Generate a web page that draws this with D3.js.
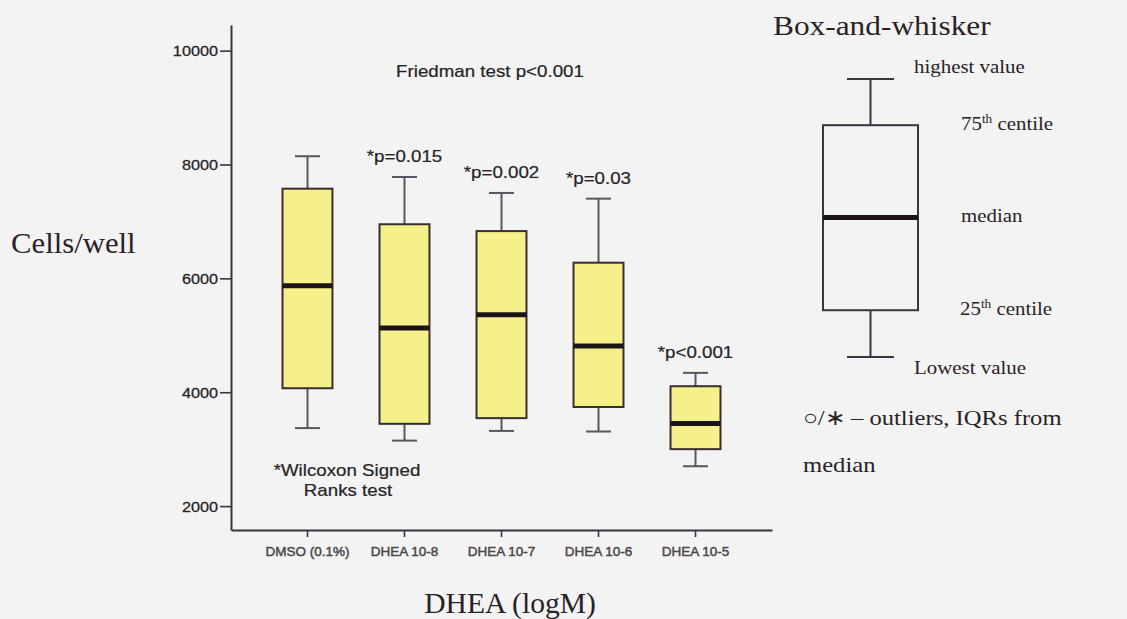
<!DOCTYPE html>
<html>
<head>
<meta charset="utf-8">
<script src="https://cdn.jsdelivr.net/npm/d3@7"></script>
<style>
  html, body { margin: 0; padding: 0; background: #f3f3f3; }
  svg { display: block; }
</style>
</head>
<body>
<svg id="chart" width="1127" height="619"></svg>
<script>
// Cell counts per well for each treatment group
const categories = ["DMSO (0.1%)", "DHEA 10-8", "DHEA 10-7", "DHEA 10-6", "DHEA 10-5"];
const lowest   = [3370, 3150, 3320, 3310, 2700];
const q1       = [4070, 3445, 3545, 3740, 3000];
const medians  = [5870, 5130, 5360, 4810, 3450];
const q3       = [7575, 6950, 6830, 6275, 4105];
const highest  = [8145, 7780, 7500, 7400, 4340];
const pLabels  = [null, "*p=0.015", "*p=0.002", "*p=0.03", "*p<0.001"];

const yTicks = [2000, 4000, 6000, 8000, 10000];
const yExtent = [1580, 10450];

// Schematic key box: lowest, 25th, median, 75th, highest
const keyStats = [4620, 5440, 7070, 8690, 9500];

const svg = d3.select("#chart");
const serif = "'Liberation Serif', 'Times New Roman', serif";
const sans = "'Liberation Sans', Arial, sans-serif";
const axisColor = "#3b3340";

const y = d3.scaleLinear().domain(yExtent).range([530, 25]);
const x = d3.scaleBand().domain(categories).range([231, 772])
  .paddingInner(0.485).paddingOuter(0.531);

// text drawn with a horizontal stretch around its anchor
function label(g, str, px, py, o) {
  const t = g.append("text")
    .attr("transform", `translate(${px},${py}) scale(${o.sx || 1},1)`)
    .attr("text-anchor", o.anchor || "start")
    .attr("font-family", o.family || sans)
    .attr("font-size", o.size)
    .attr("font-weight", o.weight || "normal")
    .attr("fill", o.fill || "#262326")
    .text(str);
  if (o.thicken) t.attr("stroke", o.fill || "#262326").attr("stroke-width", o.thicken);
  return t;
}

// Y axis
const yAxis = svg.append("g").attr("transform", "translate(231,0)")
  .call(d3.axisLeft(y).tickValues(yTicks).tickSize(11).tickSizeOuter(0).tickFormat(d3.format("d")));
yAxis.select(".domain").attr("stroke", axisColor).attr("stroke-width", 2);
yAxis.selectAll(".tick line").attr("stroke", axisColor).attr("stroke-width", 1.6);
const ySx = 1.16;
yAxis.selectAll(".tick text")
  .attr("font-family", sans).attr("font-size", 14).attr("fill", "#262326")
  .attr("stroke", "#262326").attr("stroke-width", 0.25)
  .attr("x", -13 / ySx).attr("transform", `scale(${ySx},1)`).attr("dy", "0.36em");

// X axis
const xAxis = svg.append("g").attr("transform", "translate(0,530)")
  .call(d3.axisBottom(x).tickSize(7).tickSizeOuter(0).tickPadding(9));
xAxis.select(".domain").attr("stroke", axisColor).attr("stroke-width", 2);
xAxis.selectAll(".tick line").attr("stroke", axisColor).attr("stroke-width", 1.6);
xAxis.selectAll(".tick text")
  .attr("font-family", sans).attr("font-size", 13.5).attr("fill", "#4a4548")
  .attr("stroke", "#4a4548").attr("stroke-width", 0.45);

// Boxes
const bw = x.bandwidth();
const boxes = svg.append("g").selectAll("g").data(categories).join("g")
  .attr("transform", d => `translate(${x(d)},0)`);

boxes.append("line").attr("x1", bw / 2).attr("x2", bw / 2)
  .attr("y1", (d, i) => y(highest[i])).attr("y2", (d, i) => y(q3[i]))
  .attr("stroke", "#5a5560").attr("stroke-width", 2);
boxes.append("line").attr("x1", bw / 2).attr("x2", bw / 2)
  .attr("y1", (d, i) => y(q1[i])).attr("y2", (d, i) => y(lowest[i]))
  .attr("stroke", "#5a5560").attr("stroke-width", 2);
boxes.append("line").attr("x1", bw / 4).attr("x2", bw * 3 / 4)
  .attr("y1", (d, i) => y(highest[i])).attr("y2", (d, i) => y(highest[i]))
  .attr("stroke", "#5a5560").attr("stroke-width", 2);
boxes.append("line").attr("x1", bw / 4).attr("x2", bw * 3 / 4)
  .attr("y1", (d, i) => y(lowest[i])).attr("y2", (d, i) => y(lowest[i]))
  .attr("stroke", "#5a5560").attr("stroke-width", 2);
boxes.append("rect").attr("x", 0).attr("width", bw)
  .attr("y", (d, i) => y(q3[i])).attr("height", (d, i) => y(q1[i]) - y(q3[i]))
  .attr("fill", "#f6f08a").attr("stroke", "#3a2e30").attr("stroke-width", 2);
boxes.append("line").attr("x1", 0).attr("x2", bw)
  .attr("y1", (d, i) => y(medians[i])).attr("y2", (d, i) => y(medians[i]))
  .attr("stroke", "#1c1416").attr("stroke-width", 5);

// Significance labels above whiskers
const ann = svg.append("g");
const aOpt = { size: 16, sx: 1.17, anchor: "middle", thicken: 0.2 };
categories.forEach((c, i) => {
  if (pLabels[i]) label(ann, pLabels[i], x(c) + bw / 2, y(highest[i]) - 15, aOpt);
});
label(ann, "Friedman test p<0.001", 490, 77, aOpt);
label(ann, "*Wilcoxon Signed", 347, 476, aOpt);
label(ann, "Ranks test", 348, 496, aOpt);

// Axis titles
label(svg, "Cells/well", 11, 253, { family: serif, size: 29, sx: 1.06, fill: "#2a2226" });
label(svg, "DHEA (logM)", 510, 613, { family: serif, size: 29, sx: 1.02, anchor: "middle", fill: "#2a2226" });

// Key
const key = svg.append("g");
const kx0 = 823, kx1 = 918, kc = (kx0 + kx1) / 2, kcap = 23.5;
const [kLow, kQ1, kMed, kQ3, kHigh] = keyStats;
key.append("line").attr("x1", kc).attr("x2", kc).attr("y1", y(kHigh)).attr("y2", y(kQ3))
  .attr("stroke", axisColor).attr("stroke-width", 2);
key.append("line").attr("x1", kc).attr("x2", kc).attr("y1", y(kQ1)).attr("y2", y(kLow))
  .attr("stroke", axisColor).attr("stroke-width", 2);
key.append("line").attr("x1", kc - kcap).attr("x2", kc + kcap).attr("y1", y(kHigh)).attr("y2", y(kHigh))
  .attr("stroke", axisColor).attr("stroke-width", 2);
key.append("line").attr("x1", kc - kcap).attr("x2", kc + kcap).attr("y1", y(kLow)).attr("y2", y(kLow))
  .attr("stroke", axisColor).attr("stroke-width", 2);
key.append("rect").attr("x", kx0).attr("width", kx1 - kx0)
  .attr("y", y(kQ3)).attr("height", y(kQ1) - y(kQ3))
  .attr("fill", "none").attr("stroke", axisColor).attr("stroke-width", 2);
key.append("line").attr("x1", kx0).attr("x2", kx1).attr("y1", y(kMed)).attr("y2", y(kMed))
  .attr("stroke", "#1c1416").attr("stroke-width", 5);

const kOpt = { family: serif, size: 19, sx: 1.1, fill: "#2a2226" };
label(key, "Box-and-whisker", 773, 35, { family: serif, size: 28, sx: 1.12, fill: "#2a2226" });
label(key, "highest value", 914, y(kHigh) - 6, kOpt);
const t75 = label(key, "75", 961, y(kQ3) + 5, kOpt);
t75.append("tspan").attr("font-size", 12).attr("dy", -7).text("th");
t75.append("tspan").attr("dy", 7).text(" centile");
label(key, "median", 961, y(kMed) + 5, kOpt);
const t25 = label(key, "25", 960, y(kQ1) + 5, kOpt);
t25.append("tspan").attr("font-size", 12).attr("dy", -7).text("th");
t25.append("tspan").attr("dy", 7).text(" centile");
label(key, "Lowest value", 914, y(kLow) + 17, kOpt);
label(key, "\u25CB/\u2217 \u2013 outliers, IQRs from", 803, 425, { family: serif, size: 22, sx: 1.12, fill: "#2a2226" });
label(key, "median", 803, 472, { family: serif, size: 22, sx: 1.12, fill: "#2a2226" });
</script>
</body>
</html>
